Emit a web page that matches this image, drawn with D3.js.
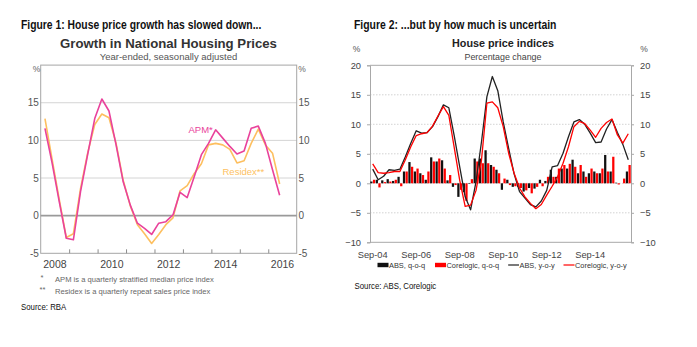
<!DOCTYPE html>
<html>
<head>
<meta charset="utf-8">
<script src="https://cdn.jsdelivr.net/npm/d3@7"></script>
<style>
body { margin: 0; background: #fff; }
text { font-family: "Liberation Sans", Arial, sans-serif; }
</style>
</head>
<body>
<div class="chart"></div>
<script>
// Two house price charts side by side (RBA / ABS, Corelogic)

// ---- data: figure 1 (year-ended growth, %) ----
var fig1Quarters = ["2008Q1","2008Q2","2008Q3","2008Q4","2009Q1","2009Q2","2009Q3","2009Q4",
  "2010Q1","2010Q2","2010Q3","2010Q4","2011Q1","2011Q2","2011Q3","2011Q4",
  "2012Q1","2012Q2","2012Q3","2012Q4","2013Q1","2013Q2","2013Q3","2013Q4",
  "2014Q1","2014Q2","2014Q3","2014Q4","2015Q1","2015Q2","2015Q3","2015Q4",
  "2016Q1","2016Q2"];
var apmValues = [11.6, 7.0, 1.9, -3.0, -3.2, 3.2, 8.1, 12.9, 15.5, 13.9, 9.4, 4.5, 1.4, -1.0, -1.7, -2.5,
  -1.0, -0.8, 0.1, 3.1, 2.4, 5.2, 8.1, 9.6, 11.4, 10.3, 9.2, 8.2, 8.6, 11.6, 11.9, 9.6, 6.1, 2.7];
var residexValues = [12.9, 7.5, 2.2, -2.9, -2.4, 3.6, 8.3, 12.1, 13.5, 13.0, 9.6, 4.7, 1.3, -1.2, -2.4, -3.7,
  -2.5, -1.2, -0.3, 3.3, 4.0, 5.6, 6.9, 9.4, 9.6, 9.4, 8.8, 7.0, 7.3, 9.6, 11.5, 9.4, 8.3, 4.2];
var fig1YearLabels = [2008, 2010, 2012, 2014, 2016];
var fig1YearTicks = [2009, 2010, 2011, 2012, 2013, 2014, 2015, 2016];
var fig1YTicks = [-5, 0, 5, 10, 15];

// ---- data: figure 2 (percentage change) ----
var fig2Quarters = ["Sep-04","Dec-04","Mar-05","Jun-05","Sep-05","Dec-05","Mar-06","Jun-06",
  "Sep-06","Dec-06","Mar-07","Jun-07","Sep-07","Dec-07","Mar-08","Jun-08",
  "Sep-08","Dec-08","Mar-09","Jun-09","Sep-09","Dec-09","Mar-10","Jun-10",
  "Sep-10","Dec-10","Mar-11","Jun-11","Sep-11","Dec-11","Mar-12","Jun-12",
  "Sep-12","Dec-12","Mar-13","Jun-13","Sep-13","Dec-13","Mar-14","Jun-14",
  "Sep-14","Dec-14","Mar-15","Jun-15","Sep-15","Dec-15","Mar-16","Jun-16"];
var absQoq = [0.3, 0.6, 0.5, 0.7, 0.4, 1.1, 2.0, 3.6, 2.0, 1.7, 0.6, 4.4, 3.7, 3.9, 0.5, -0.6,
  -2.3, -1.5, -0.1, 4.2, 4.2, 5.6, 3.1, 2.3, -1.1, 0.6, -0.6, -0.6, -1.4, -0.8, -0.9, 0.6,
  0.4, 2.3, 1.1, 2.5, 2.5, 4.0, 1.7, 2.0, 1.7, 2.0, 1.7, 4.8, 2.0, 0.1, 0.0, 2.0];
var coreQoq = [0.6, -0.7, 0.2, 0.3, 0.6, -0.5, 2.0, 2.8, 2.5, 1.4, 2.0, 3.7, 4.2, 2.5, 1.4, -0.3,
  -1.1, -3.0, 0.7, 3.7, 3.4, 3.4, 2.8, 1.7, 0.8, -0.3, -0.5, -0.8, -1.2, -1.7, -0.6, -0.5,
  1.1, 1.1, 2.5, 3.1, 3.3, 2.8, 3.1, 1.1, 2.5, 1.7, 2.5, 2.0, 4.5, -0.2, 0.8, 3.1];
var absYoy = [2.4, 0.6, 1.2, 2.3, 2.2, 2.4, 4.5, 6.8, 8.9, 8.5, 8.6, 9.6, 11.3, 13.3, 12.8, 8.0,
  2.8, -2.3, -4.5, 0.3, 7.0, 14.7, 18.1, 15.7, 10.4, 5.9, 1.6, -1.4, -2.5, -3.6, -4.0, -3.0,
  -1.2, 2.8, 3.0, 5.1, 7.9, 10.4, 10.8, 10.0, 8.5, 6.9, 7.0, 9.2, 10.8, 8.6, 6.6, 4.0];
var coreYoy = [3.3, 1.8, 1.7, 1.8, 2.0, 2.0, 4.0, 6.2, 8.1, 8.4, 8.6, 9.7, 11.4, 13.0, 11.5, 6.0,
  0.5, -3.9, -3.7, -1.2, 3.9, 13.6, 13.8, 12.8, 9.6, 5.1, 1.7, -0.8, -2.3, -3.4, -4.3, -3.6,
  -2.0, -0.5, 1.1, 3.4, 6.2, 9.6, 10.5, 10.1, 9.0, 7.8, 9.3, 10.3, 10.9, 8.2, 6.8, 8.4];
var fig2XLabels = ["Sep-04","Sep-06","Sep-08","Sep-10","Sep-12","Sep-14"];
var fig2YTicks = [-10, -5, 0, 5, 10, 15, 20];

// svg wrapper
var svgWidth = 697;
var svgHeight = 347;
var svg = d3.select(".chart").append("svg").attr("width", svgWidth).attr("height", svgHeight);
svg.append("rect").attr("width", svgWidth).attr("height", svgHeight).attr("fill", "#fff");

// condensed text (no narrow font installed, so squeeze horizontally)
function narrowText(x, y, size, bold, txt, sx) {
  return svg.append("text").attr("transform", `translate(${x}, ${y}) scale(${sx}, 1)`)
    .attr("font-size", size).attr("font-weight", bold ? "bold" : "normal").attr("fill", "#111").text(txt);
}

// ================= Figure 1 =================
var f1 = {left: 40.7, right: 296.7, top: 65.1, bottom: 253.3};
var x1 = d3.scaleLinear().domain([2008, 2017]).range([f1.left, f1.right]);
var y1 = d3.scaleLinear().domain([-5, 20]).range([f1.bottom, f1.top]);
var qTime = function(q) { return +q.slice(0, 4) + (+q.slice(5) - 0.4) / 4; };

narrowText(21, 29, "12.7px", true, "Figure 1: House price growth has slowed down...", 0.815);
svg.append("text").attr("x", 168.5).attr("y", 47.5).attr("text-anchor", "middle")
  .attr("font-size", "13.2px").attr("font-weight", "bold").attr("fill", "#333")
  .text("Growth in National Housing Prices");
svg.append("text").attr("x", 168.5).attr("y", 60).attr("text-anchor", "middle")
  .attr("font-size", "9.5px").attr("fill", "#555")
  .text("Year-ended, seasonally adjusted");

var g1 = svg.append("g");
// gridlines
g1.selectAll(".grid1").data([5, 10, 15]).enter().append("line")
  .attr("x1", f1.left).attr("x2", f1.right).attr("y1", d => y1(d)).attr("y2", d => y1(d))
  .attr("stroke", "#d4d4d4").attr("stroke-width", 1);
// frame
g1.append("rect").attr("x", f1.left).attr("y", f1.top).attr("width", f1.right - f1.left).attr("height", f1.bottom - f1.top)
  .attr("fill", "none").attr("stroke", "#a6a6a6").attr("stroke-width", 1);
g1.append("line").attr("x1", f1.left).attr("x2", f1.right).attr("y1", y1(0)).attr("y2", y1(0))
  .attr("stroke", "#9a9a9a").attr("stroke-width", 1.6);
// year ticks (pointing up) and labels
g1.append("g").attr("transform", `translate(0, ${f1.bottom})`)
  .call(d3.axisBottom(x1).tickValues(fig1YearTicks).tickSize(-4).tickFormat(""))
  .call(g => g.select(".domain").remove())
  .call(g => g.selectAll("line").attr("stroke", "#8c8c8c"));
g1.selectAll(".yr").data(fig1YearLabels).enter().append("text")
  .attr("x", d => x1(d + 0.5)).attr("y", 267.5).attr("text-anchor", "middle")
  .attr("font-size", "10.5px").attr("fill", "#444").text(d => d);
// y labels both sides
g1.selectAll(".yl").data(fig1YTicks).enter().append("text")
  .attr("x", 38.8).attr("y", d => y1(d) + 3.5).attr("text-anchor", "end")
  .attr("font-size", "10px").attr("fill", "#555").text(d => d);
g1.selectAll(".yr2").data(fig1YTicks).enter().append("text")
  .attr("x", 298.5).attr("y", d => y1(d) + 3.5).attr("text-anchor", "start")
  .attr("font-size", "10px").attr("fill", "#555").text(d => d);
g1.append("text").attr("x", 36.5).attr("y", 72).attr("text-anchor", "middle").attr("font-size", "8.5px").attr("fill", "#666").text("%");
g1.append("text").attr("x", 302).attr("y", 72).attr("text-anchor", "middle").attr("font-size", "8.5px").attr("fill", "#666").text("%");

// lines
var line1 = d3.line().x(d => x1(qTime(d.q))).y(d => y1(d.v));
var residexData = fig1Quarters.map((q, i) => ({q: q, v: residexValues[i]}));
var apmData = fig1Quarters.map((q, i) => ({q: q, v: apmValues[i]}));
g1.append("path").datum(residexData).attr("d", line1).attr("fill", "none")
  .attr("stroke", "#fdbf5f").attr("stroke-width", 1.6).attr("stroke-linejoin", "round");
g1.append("path").datum(apmData).attr("d", line1).attr("fill", "none")
  .attr("stroke", "#e9429b").attr("stroke-width", 1.6).attr("stroke-linejoin", "round");
g1.append("text").attr("x", 188.5).attr("y", 132.5).attr("font-size", "9.5px").attr("fill", "#e9429b").text("APM*");
g1.append("text").attr("x", 222.5).attr("y", 174.5).attr("font-size", "9.5px").attr("fill", "#fdbf5f").text("Residex**");

// footnotes
svg.append("text").attr("x", 40.5).attr("y", 280).attr("font-size", "7.5px").attr("fill", "#666").text("*");
svg.append("text").attr("x", 55).attr("y", 281.5).attr("font-size", "7.6px").attr("fill", "#666")
  .text("APM is a quarterly stratified median price index");
svg.append("text").attr("x", 39.5).attr("y", 292).attr("font-size", "7.5px").attr("fill", "#666").text("**");
svg.append("text").attr("x", 55).attr("y", 293.5).attr("font-size", "7.6px").attr("fill", "#666")
  .text("Residex is a quarterly repeat sales price index");
narrowText(21, 309.5, "9.8px", false, "Source: RBA", 0.8);

// ================= Figure 2 =================
var f2 = {left: 370, right: 631, top: 65.3, bottom: 242.3};
var x2 = d3.scaleBand().domain(fig2Quarters).range([f2.left, f2.right]);
var xSub = d3.scaleBand().domain(["abs", "core"]).range([0, x2.bandwidth()]).paddingInner(0.15).paddingOuter(0.1);
var y2 = d3.scaleLinear().domain([-10, 20]).range([f2.bottom, f2.top]);

narrowText(354, 29, "12.7px", true, "Figure 2: ...but by how much is uncertain", 0.82);
svg.append("text").attr("x", 503).attr("y", 46.5).attr("text-anchor", "middle")
  .attr("font-size", "10.8px").attr("font-weight", "bold").attr("fill", "#222")
  .text("House price indices");
svg.append("text").attr("x", 503).attr("y", 59.5).attr("text-anchor", "middle")
  .attr("font-size", "8.9px").attr("fill", "#444")
  .text("Percentage change");

var g2 = svg.append("g");
// dotted gridlines
g2.selectAll(".grid2").data([-5, 0, 5, 10, 15]).enter().append("line")
  .attr("x1", f2.left).attr("x2", f2.right).attr("y1", d => y2(d)).attr("y2", d => y2(d))
  .attr("stroke", "#c8c8c8").attr("stroke-width", 0.8).attr("stroke-dasharray", "1.5,1.5");
// axes (left/right with outward ticks)
g2.append("g").attr("transform", `translate(${f2.left}, 0)`)
  .call(d3.axisLeft(y2).tickValues(fig2YTicks).tickSize(3).tickPadding(6))
  .call(g => g.selectAll("line, path").attr("stroke", "#a8a8a8"))
  .call(g => g.selectAll("text").attr("font-size", "9.3px").attr("fill", "#444").attr("font-family", null));
g2.append("g").attr("transform", `translate(${f2.right}, 0)`)
  .call(d3.axisRight(y2).tickValues(fig2YTicks).tickSize(3).tickPadding(6))
  .call(g => g.selectAll("line, path").attr("stroke", "#a8a8a8"))
  .call(g => g.selectAll("text").attr("font-size", "9.3px").attr("fill", "#444").attr("font-family", null));
g2.selectAll(".hb").data([20, -10]).enter().append("line")
  .attr("x1", f2.left).attr("x2", f2.right).attr("y1", d => y2(d)).attr("y2", d => y2(d))
  .attr("stroke", "#a8a8a8").attr("stroke-width", 1);
g2.append("text").attr("x", 356.5).attr("y", 52).attr("text-anchor", "middle").attr("font-size", "8.5px").attr("fill", "#555").text("%");
g2.append("text").attr("x", 644).attr("y", 52).attr("text-anchor", "middle").attr("font-size", "8.5px").attr("fill", "#555").text("%");

// bars
var barData = [];
fig2Quarters.forEach(function(q, i) {
  barData.push({q: q, k: "abs", v: absQoq[i]});
  barData.push({q: q, k: "core", v: coreQoq[i]});
});
g2.selectAll(".bar").data(barData).enter().append("rect")
  .attr("x", d => x2(d.q) + xSub(d.k))
  .attr("width", xSub.bandwidth())
  .attr("y", d => y2(Math.max(0, d.v)))
  .attr("height", d => Math.abs(y2(d.v) - y2(0)))
  .attr("fill", d => d.k == "abs" ? "#111" : "#ff0000");

// y-o-y lines
var line2 = d3.line().x(d => x2(d.q) + x2.bandwidth() / 2).y(d => y2(d.v));
var absYoyData = fig2Quarters.map((q, i) => ({q: q, v: absYoy[i]}));
var coreYoyData = fig2Quarters.map((q, i) => ({q: q, v: coreYoy[i]}));
g2.append("path").datum(absYoyData).attr("d", line2).attr("fill", "none")
  .attr("stroke", "#222").attr("stroke-width", 1.3).attr("stroke-linejoin", "round");
g2.append("path").datum(coreYoyData).attr("d", line2).attr("fill", "none")
  .attr("stroke", "#ff0000").attr("stroke-width", 1.3).attr("stroke-linejoin", "round");

// x labels
g2.selectAll(".xl").data(fig2XLabels).enter().append("text")
  .attr("x", d => x2(d) + x2.bandwidth() / 2).attr("y", 257.5).attr("text-anchor", "middle")
  .attr("font-size", "9.3px").attr("fill", "#444").text(d => d);

// legend
var legendItems = [
  {label: "ABS, q-o-q", color: "#111", type: "rect", x: 377.5},
  {label: "Corelogic, q-o-q", color: "#ff0000", type: "rect", x: 435},
  {label: "ABS, y-o-y", color: "#222", type: "line", x: 508},
  {label: "Corelogic, y-o-y", color: "#ff0000", type: "line", x: 563.5}
];
var lg = g2.selectAll(".lg").data(legendItems).enter().append("g")
  .attr("transform", d => `translate(${d.x}, 265)`);
lg.filter(d => d.type == "rect").append("rect").attr("x", 0).attr("y", -2.2).attr("width", 11).attr("height", 4.4).attr("fill", d => d.color);
lg.filter(d => d.type == "line").append("line").attr("x1", 0).attr("x2", 11).attr("y1", 0).attr("y2", 0).attr("stroke", d => d.color).attr("stroke-width", 1.2);
lg.append("text").attr("x", 11.5).attr("y", 2.8).attr("font-size", "7.4px").attr("fill", "#333").text(d => d.label);

narrowText(354.5, 288.5, "9.8px", false, "Source: ABS, Corelogic", 0.8);
</script>
</body>
</html>
